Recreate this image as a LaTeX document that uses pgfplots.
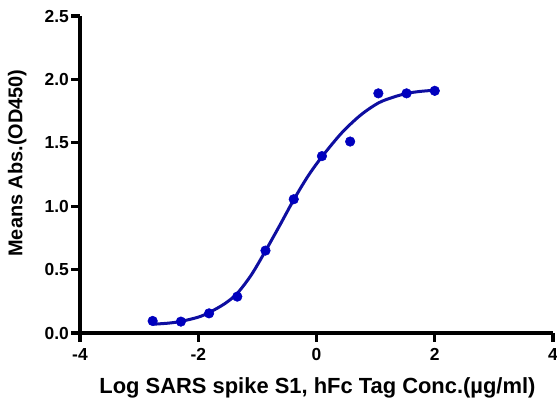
\documentclass[border=0pt]{standalone}
\usepackage{pgfplots}
\pgfplotsset{compat=1.18}
\usepackage{fontspec}
\setmainfont{Liberation Sans}
\definecolor{fitblue}{RGB}{14,14,160}
\definecolor{dotblue}{RGB}{0,0,190}
\begin{document}
\begin{tikzpicture}
\begin{axis}[
    scale only axis,
    width=473bp, height=317bp,
    xmin=-4, xmax=4, ymin=0, ymax=2.5,
    axis x line=bottom, axis y line=left,
    axis line style={line width=3.3bp, -, black},
    xtick={-4,-2,0,2,4},
    xticklabels={-4,-2,0,2,4},
    ytick={0,0.5,1,1.5,2,2.5},
    yticklabels={0.0,0.5,1.0,1.5,2.0,2.5},
    tick style={line width=3.3bp, black},
    tick align=outside,
    major tick length=8.5bp,
    ticklabel style={font=\fontsize{17.5}{20}\selectfont\bfseries, inner sep=1bp},
    xticklabel style={yshift=-6bp},
    yticklabel style={xshift=-1.5bp},
    xlabel={Log SARS spike S1, hFc Tag Conc.(µg/ml)},
    ylabel={Means Abs.(OD450)},
    xlabel style={font=\fontsize{22}{26}\selectfont\bfseries,
        at={(axis description cs:0.502,-0.1893)}, anchor=base},
    ylabel style={font=\fontsize{20}{24}\selectfont\bfseries,
        at={(axis description cs:-0.1216,0.536)}, anchor=base},
    clip=false,
]
\addplot[fitblue, line width=3bp, smooth, no marks] coordinates {
    (-2.77,0.069) (-2.50,0.078) (-2.29,0.092) (-2.00,0.125) (-1.80,0.165)
    (-1.55,0.232) (-1.34,0.313) (-1.10,0.460) (-0.86,0.650) (-0.62,0.850)
    (-0.38,1.055) (-0.14,1.240) (0.10,1.395) (0.43,1.580) (0.75,1.720)
    (1.05,1.815) (1.30,1.860) (1.53,1.890) (1.75,1.905) (2.00,1.915)
};
\addplot[only marks, mark=*, mark size=4.8bp, dotblue, mark options={draw=dotblue, fill=dotblue, line width=0.5bp}] coordinates {
    (-2.771,0.095) (-2.294,0.090) (-1.817,0.155) (-1.340,0.287)
    (-0.863,0.650) (-0.385,1.055) (0.092,1.395) (0.569,1.510)
    (1.046,1.890) (1.523,1.890) (2.000,1.910)
};
\coordinate (bl) at (rel axis cs:0,0);
\coordinate (tr) at (rel axis cs:1,1);
\end{axis}
\pgfresetboundingbox
\useasboundingbox ([shift={(-80bp,-70bp)}]bl) rectangle ([shift={(4bp,16bp)}]tr);
\end{tikzpicture}
\end{document}
